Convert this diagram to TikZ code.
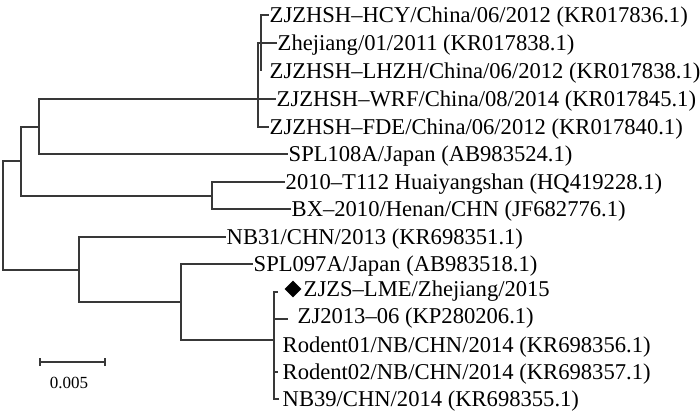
\documentclass[tikz,border=0pt]{standalone}
\usepackage{fontspec}
\setmainfont{Liberation Serif}
\usetikzlibrary{shapes.geometric}
\begin{document}
\begin{tikzpicture}[x=1pt,y=-1pt,
  br/.style={draw=black!78, line width=1.3pt},
  leaf/.style={anchor=west, inner xsep=0.5pt, inner ysep=0pt, text height=14.8pt, text depth=0pt,
    font=\fontsize{22.6}{27}\selectfont},
  scalelbl/.style={inner sep=0pt, font=\fontsize{17}{20}\selectfont},
  dmark/.style={diamond, fill=black, inner sep=0pt, minimum width=17pt, minimum height=17pt}
]
\useasboundingbox (0,0) rectangle (700,417);

% internal nodes
\coordinate (Rt) at (3,215);
\coordinate (A) at (21,161);
\coordinate (B) at (39,127);
\coordinate (G) at (258,99);
\coordinate (H) at (261,43);
\coordinate (C) at (212,196);
\coordinate (D) at (79,270);
\coordinate (E) at (181,302);
\coordinate (F) at (274,340);

% leaves
\node[leaf] (t1) at (269,15) {ZJZHSH--HCY/China/06/2012 (KR017836.1)};
\node[leaf] (t2) at (277,43) {Zhejiang/01/2011 (KR017838.1)};
\node[leaf] (t3) at (269,71) {ZJZHSH--LHZH/China/06/2012 (KR017838.1)};
\node[leaf] (t4) at (276,99) {ZJZHSH--WRF/China/08/2014 (KR017845.1)};
\node[leaf] (t5) at (269,127) {ZJZHSH--FDE/China/06/2012 (KR017840.1)};
\node[leaf] (t6) at (288,154) {SPL108A/Japan (AB983524.1)};
\node[leaf] (t7) at (285,182) {2010--T112 Huaiyangshan (HQ419228.1)};
\node[leaf] (t8) at (291,209) {BX--2010/Henan/CHN (JF682776.1)};
\node[leaf] (t9) at (226,237) {NB31/CHN/2013 (KR698351.1)};
\node[leaf] (t10) at (253,264) {SPL097A/Japan (AB983518.1)};
\node[dmark] (dm) at (293,289) {};
\node[leaf] (t11) at (303,289) {ZJZS--LME/Zhejiang/2015};
\node[leaf] (t12) at (297,316) {ZJ2013--06 (KP280206.1)};
\node[leaf] (t13) at (282,345) {Rodent01/NB/CHN/2014 (KR698356.1)};
\node[leaf] (t14) at (282,372) {Rodent02/NB/CHN/2014 (KR698357.1)};
\node[leaf] (t15) at (282,399) {NB39/CHN/2014 (KR698355.1)};

\coordinate (z11) at (278,292);
\coordinate (z12) at (288,319);
\coordinate (z14) at (278,372);
\coordinate (z15) at (279,399);

% branches
\draw[br] (Rt) |- (A);
\draw[br] (Rt) |- (D);
\draw[br] (A) |- (B);
\draw[br] (A) |- (C);
\draw[br] (B) |- (G);
\draw[br] (B) |- (t6.west);
\draw[br] (G) |- (H);
\draw[br] (G) -- (t4.west);
\draw[br] (G) |- (t5.west);
\draw[br] (H) |- (t1.west);
\draw[br] (H) -- (t2.west);
\draw[br] (H) -- (H |- t3.west);
\draw[br] (C) |- (t7.west);
\draw[br] (C) |- (t8.west);
\draw[br] (D) |- (t9.west);
\draw[br] (D) |- (E);
\draw[br] (E) |- (t10.west);
\draw[br] (E) |- (F);
\draw[br] (F) |- (z11);
\draw[br] (F) |- (z12);
\draw[br] (F) |- (z14);
\draw[br] (F) |- (z15);

% scale bar
\coordinate (s1) at (40,362);
\coordinate (s2) at (105,362);
\draw[br, line width=1.2pt] (s1) -- (s2);
\draw[br, line width=1.2pt] ([yshift=-4pt]s1) -- ([yshift=4pt]s1);
\draw[br, line width=1.2pt] ([yshift=-4pt]s2) -- ([yshift=4pt]s2);
\node[scalelbl] (sl) at (69,383) {0.005};
\end{tikzpicture}
\end{document}
